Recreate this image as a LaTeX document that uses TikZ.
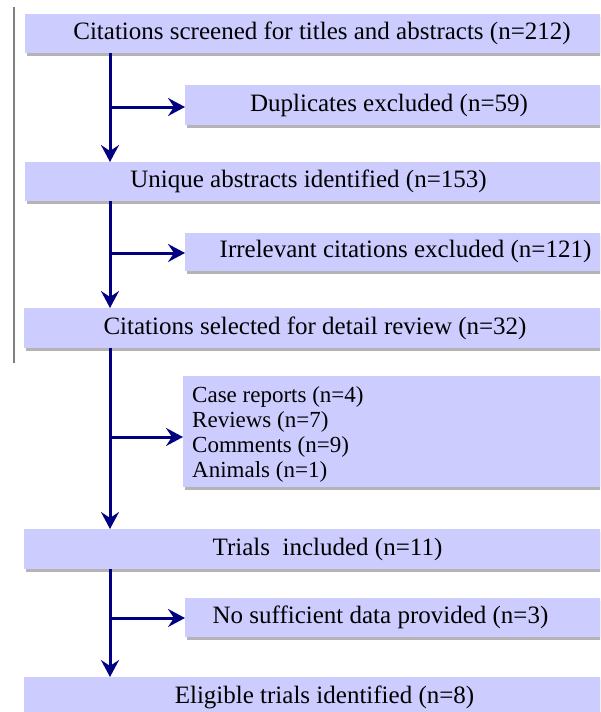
\documentclass[tikz,border=0pt]{standalone}
\usepackage{fontspec}
\setmainfont{Liberation Serif}
\newfontfamily\tnrfont{Liberation Serif}
\usetikzlibrary{arrows.meta}
\definecolor{boxfill}{HTML}{CCCCFF}
\definecolor{shadowgray}{HTML}{B4B4B4}
\definecolor{arrownavy}{HTML}{000080}
\begin{document}
\begin{tikzpicture}[x=1pt,y=-1pt,
  box/.style={rectangle, fill=boxfill, inner sep=0pt, anchor=north west,
    preaction={fill=shadowgray, transform canvas={xshift=2pt,yshift=-2.5pt}}},
  txt/.style={inner sep=0pt, font=\tnrfont\fontsize{25}{30}\selectfont},
  listtxt/.style={inner sep=0pt, align=left, anchor=west, font=\tnrfont\fontsize{23}{25}\selectfont},
  arr/.style={draw=arrownavy, line width=3pt, -{Stealth[length=17pt,width=18pt,inset=6pt]}}]
\useasboundingbox (0,0) rectangle (600,712);
\clip (0,0) rectangle (600,712);
% left rule
\draw[gray, line width=1.5pt] (14,7) -- (14,363);
% boxes
\node[box, minimum width=595pt, minimum height=39pt] (b1) at (25,14) {};
\node[box, minimum width=435pt, minimum height=40pt] (b2) at (185,85) {};
\node[box, minimum width=595pt, minimum height=39pt] (b3) at (25,162) {};
\node[box, minimum width=435pt, minimum height=38pt] (b4) at (185,233) {};
\node[box, minimum width=596pt, minimum height=40pt] (b5) at (24,308) {};
\node[box, minimum width=437pt, minimum height=111pt] (b6) at (183,376) {};
\node[box, minimum width=596pt, minimum height=40pt] (b7) at (24,529) {};
\node[box, minimum width=435pt, minimum height=39pt] (b8) at (185,598) {};
\node[box, minimum width=596pt, minimum height=40pt] (b9) at (24,677) {};
% texts
\node[txt] (t1) at (322,33.5) {Citations screened for titles and abstracts (n=212)};
\node[txt] (t2) at (389,105) {Duplicates excluded (n=59)};
\node[txt] (t3) at (308.5,181) {Unique abstracts identified (n=153)};
\node[txt] (t4) at (405.5,251.5) {Irrelevant citations excluded (n=121)};
\node[txt] (t5) at (315,328) {Citations selected for detail review (n=32)};
\node[listtxt] (t6) at (192,434) {Case reports (n=4)\\Reviews (n=7)\\Comments (n=9)\\Animals (n=1)};
\node[txt] (t7) at (327.5,549) {Trials~~included (n=11)};
\node[txt] (t8) at (380.5,617.5) {No sufficient data provided (n=3)};
\node[txt] (t9) at (324.5,697) {Eligible trials identified (n=8)};
% trunk x-position and branch points
\coordinate (v) at (110,0);
\coordinate (j1) at (110,107);
\coordinate (j2) at (110,253);
\coordinate (j3) at (110,437);
\coordinate (j4) at (110,618);
% down arrows
\draw[arr] (b1.south -| v) -- (b3.north -| v);
\draw[arr] (b3.south -| v) -- (b5.north -| v);
\draw[arr] (b5.south -| v) -- (b7.north -| v);
\draw[arr] (b7.south -| v) -- (b9.north -| v);
% side arrows
\draw[arr] (j1) -- (j1 -| b2.west);
\draw[arr] (j2) -- (j2 -| b4.west);
\draw[arr] (j3) -- (j3 -| b6.west);
\draw[arr] (j4) -- (j4 -| b8.west);
\end{tikzpicture}
\end{document}
